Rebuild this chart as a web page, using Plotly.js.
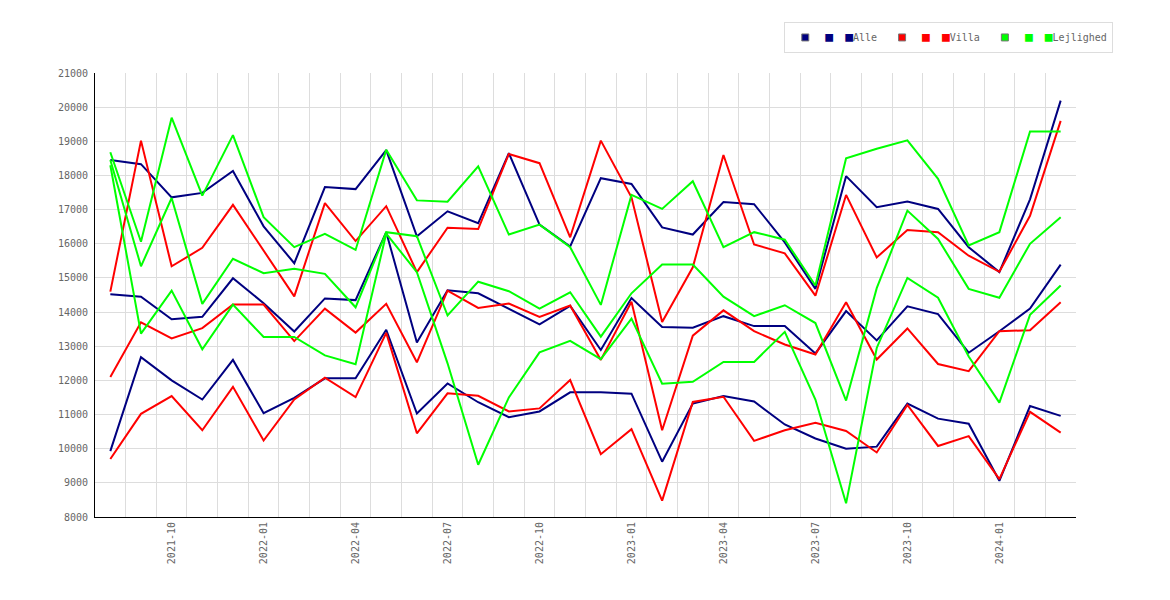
<!DOCTYPE html>
<html>
<head>
<meta charset="utf-8">
<script src="https://cdn.plot.ly/plotly-3.0.1.min.js"></script>
<style>
  body { margin: 0; background: #fff; }
  #chart { width: 1170px; height: 600px; }
</style>
</head>
<body>
<div id="chart"></div>
<script>
// months shown on the x axis (one point per month)
const months = ['2021-08', '2021-09', '2021-10', '2021-11', '2021-12', '2022-01', '2022-02', '2022-03',
    '2022-04', '2022-05', '2022-06', '2022-07', '2022-08', '2022-09', '2022-10', '2022-11',
    '2022-12', '2023-01', '2023-02', '2023-03', '2023-04', '2023-05', '2023-06', '2023-07',
    '2023-08', '2023-09', '2023-10', '2023-11', '2023-12', '2024-01', '2024-02', '2024-03'];
const tickMonths = ['2021-10', '2022-01', '2022-04', '2022-07', '2022-10', '2023-01', '2023-04', '2023-07', '2023-10', '2024-01'];

// Alle
const alleHigh = [18450, 18330, 17360, 17490, 18130, 16510, 15430, 17660, 17600, 18740, 16220, 16950, 16600, 18650, 16560, 15920,
    17920, 17750, 16480, 16270, 17220, 17160, 16040, 14680, 17980, 17070, 17240, 17020, 15900, 15170, 17300, 20190];
const alleMid = [14520, 14450, 13790, 13860, 14990, 14260, 13430, 14400, 14350, 16340, 13110, 14640, 14550, 14090, 13640, 14180,
    12890, 14410, 13560, 13540, 13880, 13590, 13590, 12790, 14030, 13170, 14170, 13940, 12810, 13440, 14100, 15390];
const alleLow = [9930, 12680, 12000, 11440, 12600, 11040, 11490, 12060, 12060, 13480, 11030, 11910, 11360, 10920, 11090, 11650,
    11650, 11610, 9620, 11320, 11540, 11380, 10710, 10300, 10000, 10060, 11320, 10880, 10730, 9060, 11250, 10960];

// Villa
const villaHigh = [14600, 19020, 15340, 15880, 17140, 15800, 14460, 17190, 16080, 17100, 15170, 16470, 16430, 18630, 18360, 16190,
    19020, 17360, 13710, 15310, 18600, 15980, 15720, 14480, 17430, 15600, 16400, 16340, 15650, 15180, 16820, 19600];
const villaMid = [12100, 13700, 13230, 13530, 14220, 14220, 13150, 14100, 13400, 14240, 12530, 14630, 14120, 14250, 13860, 14190,
    12600, 14300, 10540, 13310, 14050, 13440, 13050, 12760, 14290, 12610, 13520, 12480, 12270, 13440, 13470, 14290];
const villaLow = [9700, 11020, 11540, 10540, 11810, 10240, 11440, 12080, 11510, 13390, 10450, 11620, 11550, 11090, 11180, 12010,
    9840, 10570, 8480, 11370, 11520, 10230, 10540, 10760, 10520, 9890, 11280, 10080, 10370, 9110, 11080, 10470];

// Lejlighed
const lejHigh = [18680, 16060, 19690, 17410, 19180, 16780, 15900, 16290, 15820, 18750, 17270, 17230, 18270, 16270, 16560, 15900,
    14210, 17430, 17020, 17830, 15900, 16340, 16120, 14780, 18500, 18780, 19030, 17900, 15950, 16340, 19290, 19290];
const lejMid = [18450, 15340, 17340, 14240, 15560, 15140, 15270, 15120, 14140, 16340, 16220, 13900, 14890, 14610, 14100, 14580,
    13280, 14550, 15390, 15390, 14450, 13880, 14200, 13680, 11410, 14700, 16970, 16140, 14680, 14420, 16000, 16780];
const lejLow = [18300, 13370, 14630, 12910, 14220, 13270, 13270, 12730, 12470, 16300, 15170, 12500, 9530, 11500, 12820, 13160,
    12620, 13810, 11900, 11960, 12540, 12540, 13420, 11440, 8400, 12950, 15000, 14420, 12700, 11350, 13920, 14780];

const groups = [
    {name: 'Alle', color: '#000080', series: [alleHigh, alleMid, alleLow]},
    {name: 'Villa', color: '#ff0000', series: [villaHigh, villaMid, villaLow]},
    {name: 'Lejlighed', color: '#00ff00', series: [lejHigh, lejMid, lejLow]}
];

const idx = months.map((m, i) => i);
const traces = [];

groups.forEach(g => {
    g.series.forEach(vals => {
        traces.push({
            x: idx,
            y: vals,
            type: 'scatter',
            mode: 'lines',
            line: {color: g.color, width: 2},
            showlegend: false,
            hoverinfo: 'skip'
        });
    });
});

// legend entries: one symbol from the legend itself, two more in the text
groups.forEach(g => {
    const sq = `<span style="color:${g.color};font-size:13px">■</span>`;
    traces.push({
        x: [null],
        y: [null],
        type: 'scatter',
        mode: 'markers',
        marker: {symbol: 'square', size: 7, color: g.color, line: {color: '#777', width: 1}},
        name: sq + '\u00a0\u00a0' + sq + `<span style="color:#666">${g.name}</span>`,
        showlegend: true
    });
});

const font = {family: 'DejaVu Sans Mono, monospace', size: 10, color: '#666'};

const layout = {
    width: 1170,
    height: 600,
    margin: {l: 95, r: 94, t: 73, b: 83},
    paper_bgcolor: '#fff',
    plot_bgcolor: '#fff',
    font: font,
    showlegend: true,
    legend: {
        orientation: 'h',
        x: 1.038,
        xanchor: 'right',
        y: 1.115,
        yanchor: 'top',
        bordercolor: '#ddd',
        borderwidth: 1,
        bgcolor: '#fff',
        font: font,
        itemclick: false
    },
    xaxis: {
        type: 'linear',
        range: [-0.5, months.length - 0.5],
        tickvals: tickMonths.map(m => months.indexOf(m)),
        ticktext: tickMonths,
        tickangle: -90,
        showgrid: false,
        zeroline: false,
        showline: true,
        linecolor: '#000',
        linewidth: 1,
        ticks: '',
        minor: {tick0: 0.5, dtick: 1, showgrid: true, gridcolor: '#ddd', gridwidth: 1, ticks: ''},
        tickfont: font
    },
    yaxis: {
        range: [8000, 21000],
        dtick: 1000,
        tick0: 8000,
        tickformat: 'd',
        showgrid: true,
        gridcolor: '#ddd',
        gridwidth: 1,
        zeroline: false,
        showline: true,
        linecolor: '#000',
        linewidth: 1,
        ticks: '',
        ticklabelstandoff: 4,
        tickfont: font
    }
};

Plotly.newPlot('chart', traces, layout, {displayModeBar: false, staticPlot: true});
</script>
</body>
</html>
